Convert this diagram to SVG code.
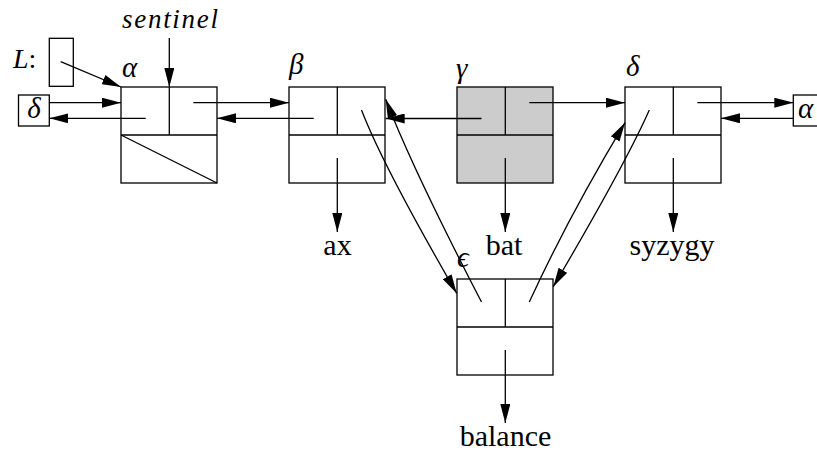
<svg xmlns="http://www.w3.org/2000/svg" width="817" height="454" viewBox="0 0 817 454">
<defs>
<marker id="ah" viewBox="0 0 19 10" refX="19" refY="5" markerWidth="19" markerHeight="10" markerUnits="userSpaceOnUse" orient="auto">
<path d="M0,0 L19,5 L0,10 z" fill="#000"/>
</marker>
<style>
.box{fill:#fff;stroke:#000;stroke-width:1.3}
.del{fill:#cccccc;stroke:#000;stroke-width:1.3}
.ln{fill:none;stroke:#000;stroke-width:1.3}
.ar{fill:none;stroke:#000;stroke-width:1.3;marker-end:url(#ah)}
</style>
</defs>
<rect width="817" height="454" fill="#fff"/>
<g font-family="Liberation Serif" fill="#000">

<g id="sentinel-label">
<text x="122" y="28" font-size="27" font-style="italic" textLength="96">sentinel</text>
</g>

<g id="L-box">
<text x="13" y="68" font-size="28" font-style="italic">L<tspan font-style="normal">:</tspan></text>
<rect class="box" x="49.3" y="38.3" width="24" height="48"/>
</g>

<g id="delta-ref">
<rect class="box" x="18.5" y="95" width="30.8" height="31"/>
<text x="34" y="118" font-size="29" font-style="italic" text-anchor="middle">δ</text>
</g>

<g id="alpha-ref">
<rect class="box" x="793.3" y="95" width="31" height="31"/>
<text x="798" y="118" font-size="29" font-style="italic">α</text>
</g>

<g id="node-alpha">
<rect class="box" x="121" y="87" width="96" height="96"/>
<line class="ln" x1="121" y1="135" x2="217" y2="135"/>
<line class="ln" x1="169.3" y1="87" x2="169.3" y2="135"/>
<line class="ln" x1="121" y1="135" x2="217" y2="183"/>
<text x="122" y="77" font-size="29" font-style="italic">α</text>
</g>

<g id="node-beta">
<rect class="box" x="289" y="87" width="96" height="96"/>
<line class="ln" x1="289" y1="135" x2="385" y2="135"/>
<line class="ln" x1="337.3" y1="87" x2="337.3" y2="135"/>
<text x="289" y="74" font-size="29" font-style="italic">β</text>
</g>

<g id="node-gamma">
<rect class="del" x="457" y="87" width="96" height="96"/>
<line class="ln" x1="457" y1="135" x2="553" y2="135"/>
<line class="ln" x1="505.3" y1="87" x2="505.3" y2="135"/>
<text x="456" y="78" font-size="29" font-style="italic">γ</text>
</g>

<g id="node-delta">
<rect class="box" x="625" y="87" width="96" height="96"/>
<line class="ln" x1="625" y1="135" x2="721" y2="135"/>
<line class="ln" x1="673.3" y1="87" x2="673.3" y2="135"/>
<text x="626" y="76" font-size="29" font-style="italic">δ</text>
</g>

<g id="node-epsilon">
<rect class="box" x="457" y="279" width="96" height="96"/>
<line class="ln" x1="457" y1="327" x2="553" y2="327"/>
<line class="ln" x1="505.3" y1="279" x2="505.3" y2="327"/>
<text x="457" y="267" font-size="29" font-style="italic">ϵ</text>
</g>

<g id="data-labels" font-size="30">
<text x="337.5" y="255" text-anchor="middle">ax</text>
<text x="504" y="255" text-anchor="middle">bat</text>
<text x="672" y="255" text-anchor="middle">syzygy</text>
<text x="505.5" y="446" text-anchor="middle">balance</text>
</g>
</g>

<g id="connectors">
<path class="ar" d="M60.7,61.7 L121,87"/>
<path class="ar" d="M169.3,38 L169.3,87"/>
<path class="ar" d="M49.3,102.7 L121,102.7"/>
<path class="ar" d="M145.7,118.3 L49.3,118.3"/>
<path class="ar" d="M193.3,102.7 L289,102.7"/>
<path class="ar" d="M313.7,118.3 L217,118.3"/>
<path class="ar" d="M361.5,110 Q383,166 456.7,293.3"/>
<path class="ar" d="M481.5,302 Q413,170 385.7,99.3"/>
<path class="ar" d="M481.5,118.5 L385.7,118.5"/>
<path class="ar" d="M529.3,102.7 L625,102.7"/>
<path class="ar" d="M529.3,302 Q568.4,217 625,122.7"/>
<path class="ar" d="M649.3,110 Q626,163 553.3,286.7"/>
<path class="ar" d="M697.3,102.7 L793.3,102.7"/>
<path class="ar" d="M793.3,118.3 L721,118.3"/>
<path class="ar" d="M337.3,158 L337.3,232"/>
<path class="ar" d="M505.3,158 L505.3,232"/>
<path class="ar" d="M673.3,158 L673.3,232"/>
<path class="ar" d="M505.3,350 L505.3,423"/>
</g>
</svg>
